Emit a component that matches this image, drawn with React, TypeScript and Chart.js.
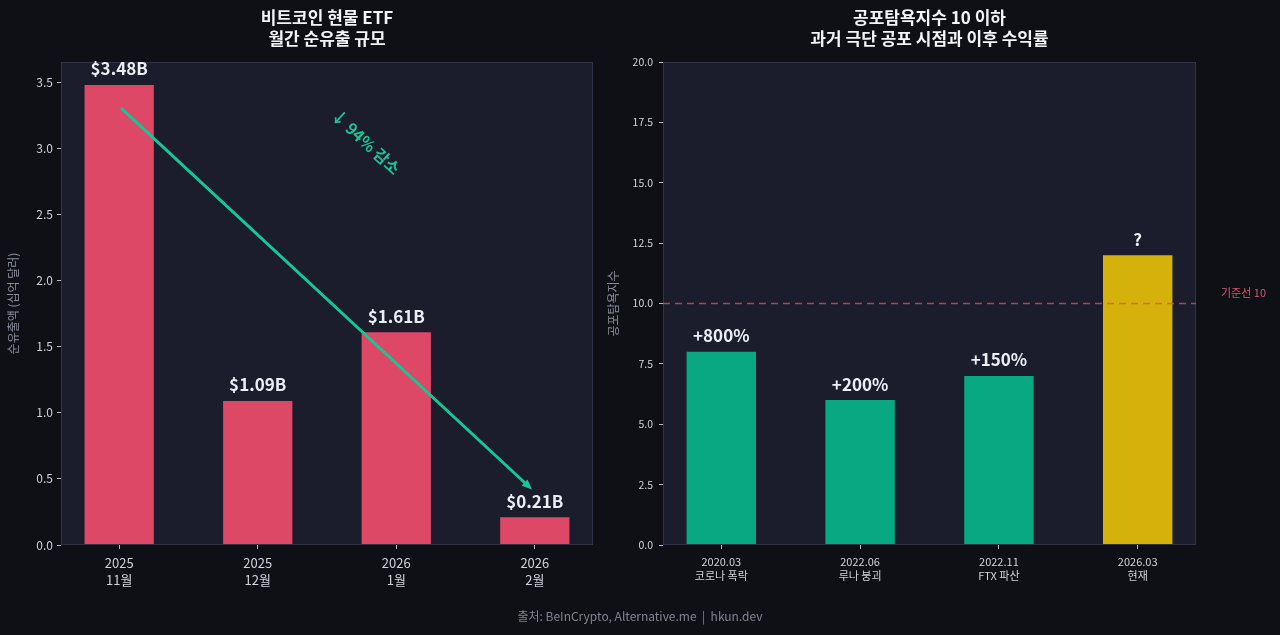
import { useEffect, useRef } from "react";
import { Chart, registerables } from "chart.js";

Chart.register(...registerables);

// ---- ETF outflow panel ----
const etfMonths = [
  ["2025", "11월"],
  ["2025", "12월"],
  ["2026", "1월"],
  ["2026", "2월"],
];
const etfOutflows = [3.48, 1.09, 1.61, 0.21];
const etfValueLabels = ["$3.48B", "$1.09B", "$1.61B", "$0.21B"];
const etfTicks = [0, 0.5, 1.0, 1.5, 2.0, 2.5, 3.0, 3.5];
const etfTitle = ["비트코인 현물 ETF", "월간 순유출 규모"];
const etfAxisTitle = "순유출액 (십억 달러)";
const trendFrom = { x: 0.02, y: 3.3 };
const trendTo = { x: 2.98, y: 0.42 };
const trendText = "↓ 94% 감소";
const trendTextAt = { x: 1.78, y: 3.05 };

// ---- Fear & Greed panel ----
const fearEvents = [
  ["2020.03", "코로나 폭락"],
  ["2022.06", "루나 붕괴"],
  ["2022.11", "FTX 파산"],
  ["2026.03", "현재"],
];
const fearIndex = [8, 6, 7, 12];
const fearReturns = ["+800%", "+200%", "+150%", "?"];
const fearTicks = [0, 2.5, 5.0, 7.5, 10.0, 12.5, 15.0, 17.5, 20.0];
const fearTitle = ["공포탐욕지수 10 이하", "과거 극단 공포 시점과 이후 수익률"];
const fearAxisTitle = "공포탐욕지수";
const fearThreshold = 10;
const fearThresholdLabel = "기준선 10";

const footerText = "출처: BeInCrypto, Alternative.me  |  hkun.dev";

const FONT = '"Noto Sans CJK KR", "Noto Sans", sans-serif';
const PAGE_BG = "#0f1016";
const PLOT_BG = "#1b1d2d";
const SPINE = "#2f3350";
const TICK_TEXT = "#d0d2da";
const AXIS_TITLE = "#8a8e9e";
const VALUE_TEXT = "#eceef4";
const RED = "#dd4867";
const GREEN = "#07a882";
const GOLD = "#d4b10b";
const ARROW = "#17c694";
const THRESHOLD = "rgba(222, 82, 102, 0.75)";

function panelPlugin(title: string[], extra: (chart: any) => void, valueLabels: string[]) {
  return {
    id: "panel",
    beforeDraw(chart: any) {
      const { ctx, chartArea: a } = chart;
      ctx.save();
      ctx.fillStyle = PLOT_BG;
      ctx.fillRect(a.left, a.top, a.right - a.left, a.bottom - a.top);
      ctx.restore();
    },
    afterDatasetsDraw(chart: any) {
      const { ctx, chartArea: a } = chart;
      ctx.save();
      ctx.strokeStyle = SPINE;
      ctx.lineWidth = 1;
      ctx.strokeRect(a.left + 0.5, a.top + 0.5, a.right - a.left - 1, a.bottom - a.top - 1);

      // title
      const cx = (a.left + a.right) / 2;
      ctx.fillStyle = "#f2f3f7";
      ctx.font = `bold 17px ${FONT}`;
      ctx.textAlign = "center";
      ctx.textBaseline = "middle";
      ctx.fillText(title[0], cx, 18);
      ctx.fillText(title[1], cx, 39);

      // value labels above bars
      const meta = chart.getDatasetMeta(0);
      ctx.fillStyle = VALUE_TEXT;
      ctx.font = `bold 17px ${FONT}`;
      meta.data.forEach((bar: any, i: number) => {
        ctx.fillText(valueLabels[i], bar.x, bar.y - 16);
      });

      extra(chart);
      ctx.restore();
    },
  };
}

function etfExtras(chart: any) {
  const { ctx, scales } = chart;
  const x0 = scales.x.getPixelForValue(trendFrom.x);
  const y0 = scales.y.getPixelForValue(trendFrom.y);
  const x1 = scales.x.getPixelForValue(trendTo.x);
  const y1 = scales.y.getPixelForValue(trendTo.y);
  const ang = Math.atan2(y1 - y0, x1 - x0);
  const head = 11;
  ctx.save();
  ctx.strokeStyle = ARROW;
  ctx.fillStyle = ARROW;
  ctx.lineWidth = 3;
  ctx.lineCap = "round";
  ctx.beginPath();
  ctx.moveTo(x0, y0);
  ctx.lineTo(x1 - Math.cos(ang) * head * 0.6, y1 - Math.sin(ang) * head * 0.6);
  ctx.stroke();
  ctx.beginPath();
  ctx.moveTo(x1, y1);
  ctx.lineTo(x1 - head * Math.cos(ang - 0.4), y1 - head * Math.sin(ang - 0.4));
  ctx.lineTo(x1 - head * Math.cos(ang + 0.4), y1 - head * Math.sin(ang + 0.4));
  ctx.closePath();
  ctx.fill();

  // rotated trend note
  const tx = scales.x.getPixelForValue(trendTextAt.x);
  const ty = scales.y.getPixelForValue(trendTextAt.y);
  ctx.translate(tx, ty);
  ctx.rotate(ang);
  ctx.font = `bold 16px ${FONT}`;
  ctx.textAlign = "center";
  ctx.textBaseline = "middle";
  ctx.fillText(trendText, 0, 0);
  ctx.restore();
}

function fearExtras(chart: any) {
  const { ctx, scales, chartArea: a } = chart;
  const y = scales.y.getPixelForValue(fearThreshold);
  ctx.save();
  ctx.strokeStyle = THRESHOLD;
  ctx.lineWidth = 1.5;
  ctx.setLineDash([7, 5]);
  ctx.beginPath();
  ctx.moveTo(a.left, y);
  ctx.lineTo(a.right, y);
  ctx.stroke();
  ctx.setLineDash([]);
  ctx.fillStyle = "#d9566c";
  ctx.font = `11px ${FONT}`;
  ctx.textAlign = "left";
  ctx.textBaseline = "middle";
  ctx.fillText(fearThresholdLabel, a.right + 25, y - 11);
  ctx.restore();
}

function makeConfig(opts: {
  values: number[];
  colors: string[];
  cats: string[][];
  ticks: number[];
  yMax: number;
  tickFmt: (v: number) => string;
  axisTitle: string;
  tickSize: number;
  xTickSize: number;
  yAxisWidth: number;
  yTickPad: number;
  padRight: number;
  plugin: any;
}) {
  return {
    type: "bar" as const,
    data: {
      datasets: [
        {
          data: opts.values.map((v, i) => ({ x: i, y: v })),
          backgroundColor: opts.colors,
          borderWidth: 0,
          barPercentage: 0.5,
          categoryPercentage: 1.0,
        },
      ],
    },
    options: {
      animation: false,
      responsive: false,
      maintainAspectRatio: false,
      devicePixelRatio: 1,
      layout: { padding: { top: 62, right: opts.padRight, left: 0, bottom: 0 } },
      plugins: { legend: { display: false }, tooltip: { enabled: false }, title: { display: false } },
      scales: {
        x: {
          type: "linear" as const,
          min: -0.42,
          max: opts.values.length - 1 + 0.42,
          offset: false,
          afterBuildTicks: (s: any) => {
            s.ticks = opts.cats.map((_, i) => ({ value: i }));
          },
          afterFit: (s: any) => {
            s.height = 90;
          },
          grid: {
            display: true,
            offset: false,
            drawOnChartArea: false,
            drawTicks: true,
            tickLength: 4,
            tickColor: "#b8bac4",
          },
          border: { display: false },
          ticks: {
            autoSkip: false,
            maxRotation: 0,
            padding: 5,
            color: TICK_TEXT,
            font: { family: FONT, size: opts.xTickSize, lineHeight: 1.35 },
            callback: (v: any) => opts.cats[Math.round(v)] ?? "",
          },
        },
        y: {
          type: "linear" as const,
          min: 0,
          max: opts.yMax,
          afterBuildTicks: (s: any) => {
            s.ticks = opts.ticks.map((t) => ({ value: t }));
          },
          afterFit: (s: any) => {
            s.width = opts.yAxisWidth;
          },
          grid: {
            display: true,
            drawOnChartArea: false,
            drawTicks: true,
            tickLength: 4,
            tickColor: "#b8bac4",
          },
          border: { display: false },
          ticks: {
            padding: opts.yTickPad,
            color: TICK_TEXT,
            font: { family: FONT, size: opts.tickSize },
            callback: (v: any) => opts.tickFmt(Number(v)),
          },
          title: {
            display: true,
            text: opts.axisTitle,
            color: AXIS_TITLE,
            font: { family: FONT, size: 12 },
            padding: { top: 6, bottom: 0 },
          },
        },
      },
    },
    plugins: [opts.plugin],
  };
}

export default function App() {
  const leftRef = useRef<HTMLCanvasElement>(null);
  const rightRef = useRef<HTMLCanvasElement>(null);

  useEffect(() => {
    const left = new Chart(
      leftRef.current!,
      makeConfig({
        values: etfOutflows,
        colors: etfOutflows.map(() => RED),
        cats: etfMonths,
        ticks: etfTicks,
        yMax: 3.654,
        tickFmt: (v) => v.toFixed(1),
        axisTitle: etfAxisTitle,
        tickSize: 12,
        xTickSize: 13,
        yAxisWidth: 61,
        yTickPad: 4,
        padRight: 7,
        plugin: panelPlugin(etfTitle, etfExtras, etfValueLabels),
      }) as any
    );
    const right = new Chart(
      rightRef.current!,
      makeConfig({
        values: fearIndex,
        colors: fearIndex.map((_, i) => (i === fearIndex.length - 1 ? GOLD : GREEN)),
        cats: fearEvents,
        ticks: fearTicks,
        yMax: 20,
        tickFmt: (v) => v.toFixed(1),
        axisTitle: fearAxisTitle,
        tickSize: 10.5,
        xTickSize: 11,
        yAxisWidth: 63,
        yTickPad: 6,
        padRight: 84,
        plugin: panelPlugin(fearTitle, fearExtras, fearReturns),
      }) as any
    );
    return () => {
      left.destroy();
      right.destroy();
    };
  }, []);

  return (
    <div
      style={{
        position: "fixed",
        left: 0,
        top: 0,
        width: 1280,
        height: 635,
        background: PAGE_BG,
        overflow: "hidden",
      }}
    >
      <canvas ref={leftRef} width={600} height={635} style={{ position: "absolute", left: 0, top: 0 }} />
      <canvas ref={rightRef} width={680} height={635} style={{ position: "absolute", left: 600, top: 0 }} />
      <div
        style={{
          position: "absolute",
          left: 0,
          width: 1280,
          top: 606,
          textAlign: "center",
          color: "#80838f",
          fontFamily: FONT,
          fontSize: 12,
          lineHeight: "20px",
          whiteSpace: "pre",
        }}
      >
        {footerText}
      </div>
    </div>
  );
}
